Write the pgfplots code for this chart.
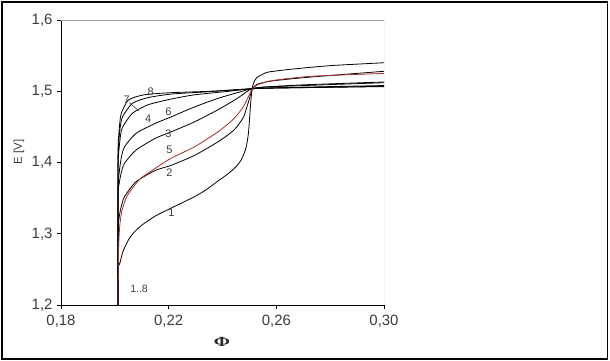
\documentclass[border=0pt]{standalone}
\usepackage{pgfplots}
\pgfplotsset{compat=1.18}
\usepackage{fontspec}
\setmainfont{Liberation Sans}
\newfontfamily\serifbold{Liberation Serif}
\definecolor{redc}{RGB}{165,45,45}
\definecolor{lab}{RGB}{60,60,60}
\begin{document}
\begin{tikzpicture}
\useasboundingbox (0,0) rectangle (610bp,-361bp);
\draw[line width=1.2bp] (2bp,-2bp) rectangle (607.5bp,-359bp);
\begin{axis}[
  at={(61bp,-305bp)}, anchor=south west,
  scale only axis, width=323bp, height=285bp,
  xmin=0.18, xmax=0.30, ymin=1.2, ymax=1.6,
  xtick={0.18,0.22,0.26,0.30}, ytick={1.2,1.3,1.4,1.5,1.6},
  axis x line*=bottom, axis y line*=left,
  axis line style={line width=0.9bp, black},
  tick align=outside, major tick length=4bp,
  tick style={line width=0.8bp, black},
  /pgf/number format/assume math mode=true,
  x tick label style={/pgf/number format/fixed, /pgf/number format/fixed zerofill, /pgf/number format/precision=2, /pgf/number format/use comma, yshift=-3bp},
  y tick label style={/pgf/number format/fixed, /pgf/number format/fixed zerofill, /pgf/number format/precision=1, /pgf/number format/use comma, xshift=-1bp},
  scaled x ticks=false, scaled y ticks=false,
  ticklabel style={font=\fontsize{15}{17}\selectfont, text=lab},
  every axis plot/.append style={line width=0.8bp, smooth, tension=0.4},
]
\draw[gray!70, line width=0.8bp] (rel axis cs:0,1) -- (rel axis cs:1,1) -- (rel axis cs:1,0);
% curve 1
\addplot[black] coordinates {(0.2012,1.200) (0.2012,1.250) (0.2019,1.259) (0.2030,1.275) (0.2050,1.291) (0.2069,1.301) (0.2100,1.312) (0.2151,1.325) (0.2209,1.336) (0.2296,1.352) (0.2340,1.362) (0.2383,1.374) (0.2420,1.384) (0.2450,1.394) (0.2470,1.404) (0.2487,1.420) (0.2496,1.440) (0.2501,1.464) (0.2505,1.485) (0.2509,1.500) (0.2514,1.510) (0.2527,1.519) (0.2550,1.524) (0.2571,1.527) (0.2657,1.531) (0.2802,1.536) (0.3000,1.540)};
% curve 2
\addplot[black] coordinates {(0.2012,1.200) (0.2012,1.300) (0.2015,1.320) (0.2022,1.335) (0.2036,1.352) (0.2079,1.373) (0.2151,1.389) (0.2209,1.396) (0.2296,1.410) (0.2383,1.429) (0.2441,1.445) (0.2477,1.463) (0.2498,1.487) (0.2511,1.5035) (0.2530,1.510) (0.2585,1.5145) (0.2730,1.520) (0.3000,1.528)};
% curve 3
\addplot[black] coordinates {(0.2012,1.200) (0.2012,1.350) (0.2016,1.370) (0.2024,1.386) (0.2036,1.399) (0.2079,1.4175) (0.2151,1.434) (0.2209,1.443) (0.2296,1.457) (0.2383,1.474) (0.2455,1.490) (0.2508,1.5035) (0.2560,1.506) (0.2700,1.508) (0.3000,1.512)};
% curve 6
\addplot[black] coordinates {(0.2012,1.200) (0.2012,1.360) (0.2016,1.385) (0.2024,1.407) (0.2036,1.422) (0.2079,1.441) (0.2151,1.455) (0.2209,1.464) (0.2296,1.478) (0.2383,1.490) (0.2455,1.498) (0.2508,1.5035) (0.2560,1.506) (0.2700,1.509) (0.3000,1.513)};
% curve 4
\addplot[black] coordinates {(0.2012,1.200) (0.2012,1.390) (0.2016,1.420) (0.2022,1.440) (0.2029,1.450) (0.2065,1.469) (0.2123,1.481) (0.2209,1.489) (0.2296,1.495) (0.2412,1.4995) (0.2508,1.5035) (0.2600,1.5045) (0.3000,1.507)};
% curve 7
\addplot[black] coordinates {(0.2012,1.200) (0.2012,1.400) (0.2015,1.430) (0.2020,1.450) (0.2029,1.4645) (0.2065,1.483) (0.2123,1.491) (0.2209,1.496) (0.2354,1.4995) (0.2508,1.5035) (0.2600,1.5045) (0.3000,1.5065)};
% curve 8
\addplot[black] coordinates {(0.2012,1.200) (0.2012,1.410) (0.2015,1.440) (0.2019,1.458) (0.2024,1.469) (0.2050,1.4875) (0.2108,1.495) (0.2209,1.498) (0.2354,1.500) (0.2508,1.5035) (0.2600,1.505) (0.3000,1.508)};
% curve 5 (red)
\addplot[redc] coordinates {(0.2012,1.200) (0.2012,1.230) (0.2014,1.280) (0.2018,1.310) (0.2025,1.330) (0.2035,1.343) (0.2050,1.356) (0.2094,1.377) (0.2151,1.392) (0.2209,1.406) (0.2296,1.422) (0.2383,1.443) (0.2441,1.461) (0.2477,1.478) (0.2498,1.494) (0.2511,1.5035) (0.2530,1.509) (0.2585,1.515) (0.2730,1.521) (0.3000,1.525)};
% labels
\begin{scope}[every node/.style={font=\fontsize{11}{13}\selectfont, text=lab, inner sep=0pt}]
\node at (axis cs:0.2133,1.4994) {8};
\node at (axis cs:0.2044,1.4877) {7};
\node at (axis cs:0.2124,1.4620) {4};
\node at (axis cs:0.2199,1.4713) {6};
\node at (axis cs:0.2199,1.4410) {3};
\node at (axis cs:0.2203,1.4175) {5};
\node at (axis cs:0.2203,1.3862) {2};
\node at (axis cs:0.2210,1.3296) {1};
\node[font=\fontsize{10.5}{12}\selectfont] at (axis cs:0.2090,1.2232) {1..8};
\end{scope}
\draw[lab, line width=0.6bp] (axis cs:0.2054,1.4839) -- (axis cs:0.2090,1.4723);
\end{axis}
\node[font=\fontsize{11.5}{13}\selectfont, text=lab, rotate=90] at (19bp,-152bp) {E [V]};
\node[font=\serifbold\bfseries\fontsize{14}{16}\selectfont, text=black!85, xscale=1.4] at (222bp,-342bp) {Φ};
\end{tikzpicture}
\end{document}
